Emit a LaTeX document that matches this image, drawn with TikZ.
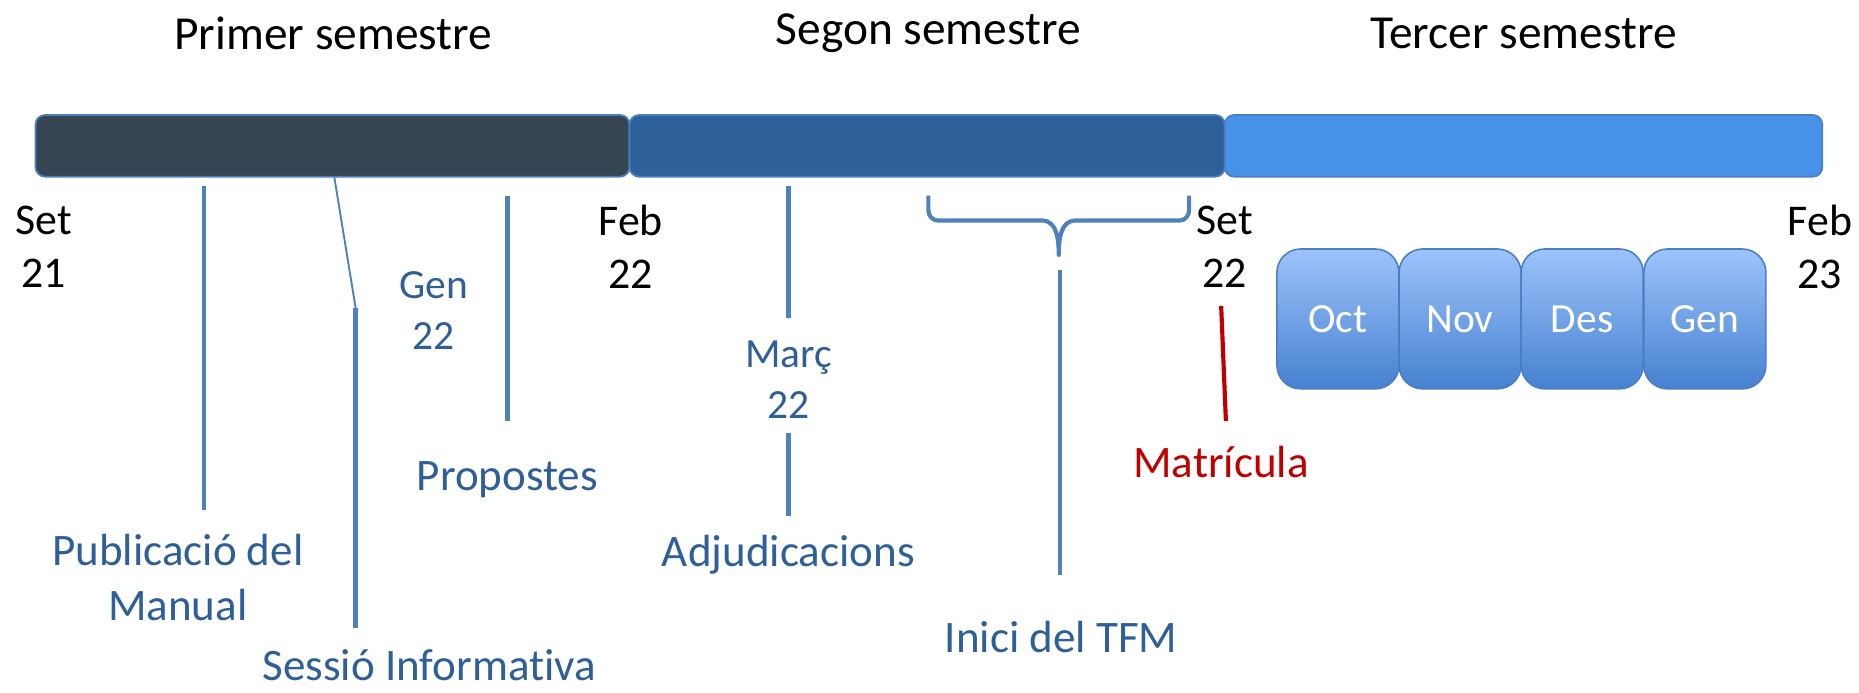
\documentclass[tikz,border=0pt]{standalone}
\usepackage{fontspec}
\setmainfont{Carlito}[RawFeature=-liga]
\usetikzlibrary{shadings}
\definecolor{segA}{HTML}{374451}
\definecolor{segB}{HTML}{2E609A}
\definecolor{segC}{HTML}{4793EA}
\definecolor{edgeblue}{HTML}{4A7EC0}
\definecolor{lineblue}{HTML}{4F81BD}
\definecolor{txtblue}{HTML}{2F5F99}
\definecolor{txtred}{HTML}{C00000}
\definecolor{boxtop}{HTML}{9DC3FC}
\definecolor{boxbot}{HTML}{4681D0}
\tikzset{
  seg/.style={draw=edgeblue, line width=1.5pt, rounded corners=8pt, inner sep=0pt, minimum height=52pt},
  title/.style={font=\fontsize{40}{48}\selectfont, text=black},
  datelbl/.style={font=\fontsize{37}{45}\selectfont, text=black, align=center},
  bluedate/.style={font=\fontsize{35}{43}\selectfont, text=txtblue, align=center},
  evlbl/.style={font=\fontsize{38}{47}\selectfont, text=txtblue, align=center},
  redlbl/.style={font=\fontsize{38}{47}\selectfont, text=txtred},
  tick/.style={draw=lineblue, line width=4pt},
  thintick/.style={draw=lineblue, line width=1.6pt},
  redtick/.style={draw=txtred, line width=3.5pt},
  monthbox/.style={draw=edgeblue, line width=1.3pt, rounded corners=20pt, top color=boxtop, bottom color=boxbot,
     minimum width=103pt, minimum height=118pt, inner sep=0pt, text=white, font=\fontsize{35}{42}\selectfont},
}
\begin{document}
\begin{tikzpicture}[x=1pt,y=-1pt]
\useasboundingbox (0,0) rectangle (1568,584.5);
\fill[white] (0,0) rectangle (1568,584.5);

% bar
\node[seg, fill=segA, minimum width=501pt] (s1) at (280.5,123) {};
\node[seg, fill=segB, minimum width=502pt] (s2) at (782,123) {};
\node[seg, fill=segC, minimum width=504pt] (s3) at (1285,123) {};

% titles
\node[title] (t1) at (281,28) {Primer semestre};
\node[title] (t2) at (783,28) {Segon semestre};
\node[title] (t3) at (1285,28) {Tercer semestre};

% black dates
\node[datelbl] (d1) at (37,208) {Set\\21};
\node[datelbl] (d2) at (532,208) {Feb\\22};
\node[datelbl] (d3) at (1033,208) {Set\\22};
\node[datelbl] (d4) at (1535,208) {Feb\\23};

% blue dates
\node[bluedate] (gen) at (366,262) {Gen\\22};
\node[bluedate] (marc) at (665,320) {Març\\22};

% months
\node[monthbox] (oct) at (1128.5,269) {Oct};
\node[monthbox] (nov) at (1231.5,269) {Nov};
\node[monthbox] (des) at (1334.5,269) {Des};
\node[monthbox] (gen2) at (1438,269) {Gen};

% event labels
\node[evlbl] (pub) at (150,487) {Publicació del\\Manual};
\node[evlbl, inner ysep=0pt] (ses) at (362,561) {Sessió Informativa};
\node[evlbl] (prop) at (428,405) {Propostes};
\node[evlbl] (adj) at (665,468) {Adjudicacions};
\node[evlbl] (tfm) at (895,537) {Inici del TFM};
\node[redlbl] (mat) at (1030,390) {Matrícula};

% coordinates
\coordinate (p1a) at (172,157); \coordinate (p1b) at (172,430);
\coordinate (sa) at (282,149.5); \coordinate (sb) at (300,260); \coordinate (sc) at (300,530);
\coordinate (pa) at (428,165); \coordinate (pb) at (428,355);
\coordinate (aa) at (665,157); \coordinate (ab) at (665,268);
\coordinate (ac) at (665,365); \coordinate (ad) at (665,435);
\coordinate (ta) at (894,228); \coordinate (tb) at (894,485);
\coordinate (ma) at (1030,258); \coordinate (mb) at (1034,355);
\coordinate (brL) at (783,165); \coordinate (brR) at (1003,165); \coordinate (brM) at (893,215);

\draw[tick] (p1a) -- (p1b);
\draw[thintick] (sa) -- (sb);
\draw[tick] (sb) -- (sc);
\draw[tick] (pa) -- (pb);
\draw[tick] (aa) -- (ab);
\draw[tick] (ac) -- (ad);
\draw[tick] (ta) -- (tb);
\draw[redtick] (ma) -- (mb);

% brace
\draw[lineblue, line width=3.5pt, line join=round]
  (brL) -- ++(0,12) to[out=-90,in=180] ++(8,9) -- ++(88,0)
  to[out=0,in=90] (brM)
  to[out=90,in=180] ++(14,-29) -- ++(88,0)
  to[out=0,in=-90] ++(8,-9) -- (brR);
\end{tikzpicture}
\end{document}
